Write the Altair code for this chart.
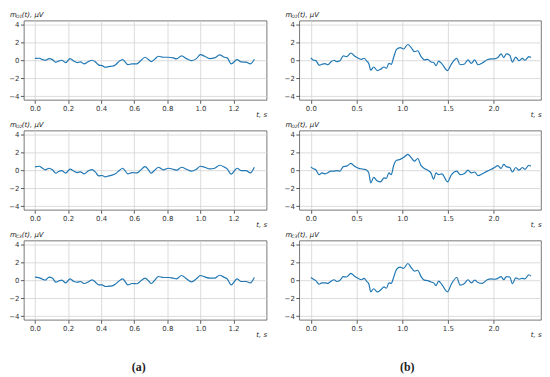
import altair as alt
import pandas as pd

# ---------------- data ----------------
t_left = [0.000, 0.026, 0.046, 0.062, 0.086, 0.106, 0.126, 0.146, 0.162, 0.186,
          0.212, 0.236, 0.256, 0.276, 0.296, 0.326, 0.346, 0.366, 0.386, 0.406,
          0.426, 0.446, 0.466, 0.486, 0.510, 0.530, 0.562, 0.586, 0.616, 0.636,
          0.666, 0.686, 0.702, 0.726, 0.746, 0.776, 0.806, 0.836, 0.856, 0.886,
          0.916, 0.946, 0.976, 1.000, 1.026, 1.056, 1.086, 1.116, 1.146, 1.162,
          1.186, 1.222, 1.246, 1.276, 1.302, 1.326]
left_row1 = [0.20, 0.22, 0.07, 0.00, 0.18, 0.07, -0.22, -0.07, 0.00, -0.26,
             0.18, -0.11, -0.26, -0.19, -0.40, -0.11, 0.00, -0.19, -0.55, -0.60,
             -0.78, -0.70, -0.67, -0.52, -0.10, 0.07, -0.48, -0.41, -0.40, -0.11,
             0.33, 0.07, -0.15, 0.15, 0.44, 0.33, 0.33, 0.26, 0.15, 0.48,
             0.18, -0.04, 0.18, 0.63, 0.44, 0.18, 0.26, 0.59, 0.33, 0.26,
             -0.40, 0.07, -0.19, -0.22, -0.40, 0.11]
left_row2 = [0.37, 0.44, 0.22, 0.04, 0.22, 0.04, -0.33, -0.11, -0.04, -0.33,
             0.11, -0.11, -0.26, -0.18, -0.40, -0.04, 0.07, -0.22, -0.63, -0.59,
             -0.74, -0.63, -0.55, -0.40, -0.04, 0.22, -0.40, -0.26, -0.30, -0.04,
             0.40, 0.04, -0.33, 0.04, 0.33, 0.04, 0.22, 0.11, 0.00, 0.33,
             0.11, -0.11, 0.11, 0.44, 0.33, 0.15, 0.22, 0.55, 0.33, 0.15,
             -0.44, 0.22, -0.04, -0.04, -0.30, 0.33]
left_row3 = [0.33, 0.26, 0.11, 0.00, 0.33, 0.22, -0.22, -0.07, 0.00, -0.30,
             0.15, -0.15, -0.22, -0.15, -0.37, -0.15, 0.04, -0.22, -0.52, -0.52,
             -0.70, -0.67, -0.63, -0.44, -0.07, 0.15, -0.52, -0.37, -0.40, -0.15,
             0.22, -0.07, -0.37, 0.04, 0.41, 0.30, 0.30, 0.22, 0.15, 0.52,
             0.15, -0.18, 0.15, 0.52, 0.37, 0.22, 0.22, 0.55, 0.30, 0.15,
             -0.52, 0.15, -0.15, -0.15, -0.30, 0.30]

t_right = [0.000, 0.029, 0.054, 0.091, 0.120, 0.156, 0.185, 0.217, 0.254, 0.283,
           0.319, 0.355, 0.391, 0.438, 0.482, 0.525, 0.554, 0.583, 0.612, 0.634,
           0.656, 0.688, 0.728, 0.764, 0.801, 0.826, 0.855, 0.880, 0.906, 0.938,
           0.978, 1.014, 1.062, 1.098, 1.134, 1.170, 1.207, 1.243, 1.279, 1.315,
           1.344, 1.370, 1.399, 1.435, 1.496, 1.540, 1.598, 1.634, 1.678, 1.721,
           1.757, 1.793, 1.830, 1.877, 1.931, 1.975, 2.011, 2.047, 2.083, 2.112,
           2.141, 2.178, 2.207, 2.243, 2.279, 2.315, 2.344, 2.388, 2.409]
right_row1 = [0.26, 0.00, -0.04, -0.55, -0.45, -0.37, -0.50, -0.20, 0.00, -0.15,
              -0.05, 0.48, 0.40, 0.80, 0.45, 0.20, 0.10, 0.22, -0.10, -0.35,
              -1.10, -0.75, -1.15, -1.00, -0.75, -0.90, -0.35, -0.45, 0.30, 1.20,
              1.40, 1.25, 1.75, 1.40, 0.95, 1.05, 0.40, 0.05, 0.10, -0.20,
              -0.25, -0.60, -0.10, -0.40, -1.15, -0.40, 0.20, -0.50, -0.45, 0.05,
              -0.35, 0.05, -0.50, -0.30, 0.05, 0.15, 0.15, 0.30, 0.70, 0.30,
              0.70, 0.55, -0.20, 0.35, -0.05, 0.20, 0.00, 0.40, 0.30]
right_row2 = [0.37, 0.15, 0.05, -0.50, -0.30, -0.40, -0.30, -0.10, -0.10, -0.05,
              -0.10, 0.40, 0.45, 0.75, 0.40, 0.20, 0.15, 0.10, 0.00, -0.30,
              -1.40, -0.80, -1.20, -1.30, -0.85, -0.90, -0.30, -0.50, 0.50, 1.10,
              1.20, 1.40, 1.75, 1.40, 1.00, 1.30, 0.50, 0.20, 0.00, -0.30,
              -1.00, -0.30, -0.50, -0.40, -1.30, -0.50, -0.10, -0.50, -0.40, 0.00,
              -0.30, -0.20, -0.60, -0.40, -0.10, 0.10, 0.30, 0.50, 0.20, 0.65,
              0.40, 0.30, -0.20, 0.30, 0.00, 0.30, 0.10, 0.55, 0.45]
right_row3 = [0.30, 0.10, -0.05, -0.45, -0.30, -0.30, -0.35, -0.15, 0.05, -0.15,
              0.00, 0.40, 0.35, 0.75, 0.40, 0.15, 0.05, 0.20, -0.15, -0.40,
              -1.30, -0.95, -1.30, -1.10, -0.75, -0.90, -0.30, -0.35, 0.30, 1.20,
              1.45, 1.30, 1.85, 1.40, 1.00, 1.10, 0.40, 0.00, -0.05, -0.20,
              -0.30, -0.60, -0.10, -0.50, -1.30, -0.40, 0.30, -0.55, -0.40, 0.05,
              -0.30, 0.00, -0.25, -0.35, 0.05, 0.15, 0.10, 0.20, 0.40, 0.05,
              0.40, 0.35, -0.40, 0.25, 0.10, 0.20, 0.15, 0.60, 0.45]

row_subscripts = ["O1", "O2", "C3"]
column_labels = ["(a)", "(b)"]
x_ticks_left = [0.0, 0.2, 0.4, 0.6, 0.8, 1.0, 1.2]
x_ticks_right = [0.0, 0.5, 1.0, 1.5, 2.0]
y_ticks = [-4, -2, 0, 2, 4]
x_title = "t, s"
y_unit = "(t), μV"

# ---------------- layout ----------------
W_L, W_R, H = 245, 244, 80
XDOM_L = [-0.067, 1.40]
XDOM_R = [-0.127, 2.52]
YDOM = [-4.4, 4.4]


def one_text(txt, x, y, **kw):
    return alt.Chart(pd.DataFrame({"s": [txt]})).mark_text(**kw).encode(
        x=alt.value(x), y=alt.value(y), text="s:N")


def panel(t, v, w, xdom, xticks, sub, label=None, label_x=None):
    df = pd.DataFrame({"t": t, "v": v})
    line = alt.Chart(df).mark_line(
        color="#1f77b4", strokeWidth=1.2, interpolate="monotone"
    ).encode(
        x=alt.X("t:Q", scale=alt.Scale(domain=xdom, nice=False, zero=False),
                axis=alt.Axis(values=xticks, format=".1f", title=x_title,
                              titleAngle=0, titleAlign="right", titleX=w,
                              titleY=15, titleBaseline="middle",
                              titleFontStyle="italic")),
        y=alt.Y("v:Q", scale=alt.Scale(domain=YDOM, nice=False, zero=False),
                axis=alt.Axis(values=y_ticks, title=None)),
    )
    layers = [
        line,
        one_text("m", -14, -4, align="left", baseline="alphabetic",
                 fontSize=7, fontStyle="italic"),
        one_text(sub, -8, -2.5, align="left", baseline="alphabetic",
                 fontSize=4.5, fontStyle="italic"),
        one_text(y_unit, -2, -4, align="left", baseline="alphabetic",
                 fontSize=7, fontStyle="italic"),
    ]
    if label is not None:
        layers.append(one_text(label, label_x, H + 48, align="center",
                               baseline="middle", fontSize=12,
                               font="Liberation Serif", fontWeight="bold"))
    return alt.layer(*layers).properties(width=w, height=H)


left_rows = [left_row1, left_row2, left_row3]
right_rows = [right_row1, right_row2, right_row3]
panels = []
for i in range(3):
    last = i == 2
    panels.append(panel(t_left, left_rows[i], W_L, XDOM_L, x_ticks_left,
                        row_subscripts[i],
                        column_labels[0] if last else None, 116))
    panels.append(panel(t_right, right_rows[i], W_R, XDOM_R, x_ticks_right,
                        row_subscripts[i],
                        column_labels[1] if last else None, 109))

chart = alt.concat(
    *panels, columns=2, spacing=alt.RowColnumber(row=31, column=33),
    bounds="flush"
).properties(
    padding={"left": 0, "top": 0, "right": 0, "bottom": 0}
).configure_view(
    stroke="#555", strokeWidth=0.8
).configure_axis(
    grid=True, gridColor="#d2d2d2", gridWidth=0.8, domain=False,
    tickColor="#333", tickSize=3.5, tickWidth=0.8,
    labelFontSize=7, labelColor="#333", labelFont="DejaVu Sans",
    labelPadding=1.5, titleFont="DejaVu Sans", titleFontSize=7,
    titleFontWeight="normal", titleColor="#222"
).configure_text(
    font="DejaVu Sans", color="#222"
)

chart.save("out.html", embed_options={"renderer": "svg", "actions": False})
